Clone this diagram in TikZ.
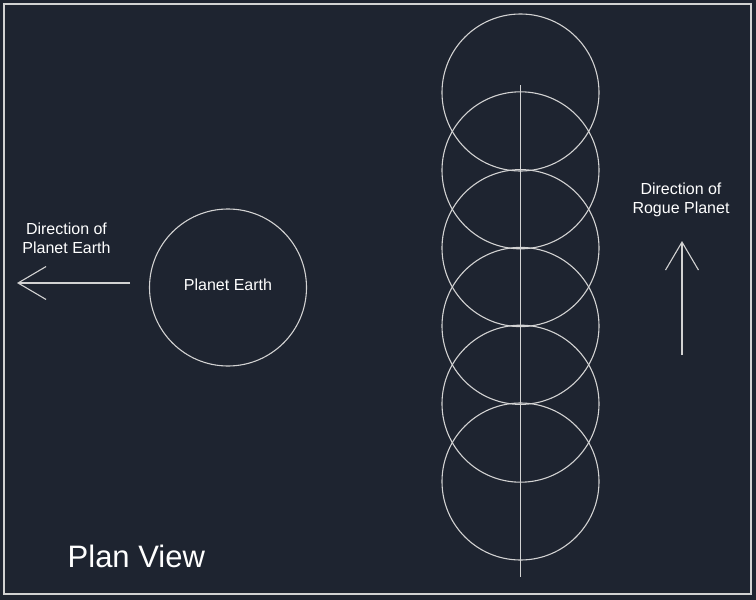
\documentclass[tikz,border=0pt]{standalone}
\usepackage{fontspec}
\setmainfont{Liberation Sans}
\usetikzlibrary{arrows.meta}
\definecolor{bgdark}{HTML}{1E2430}
\definecolor{linegray}{HTML}{D2D2D2}

\begin{document}
\begin{tikzpicture}[
x=1pt, y=-1pt,
planet/.style={
	draw=linegray, circle, line width=1.1pt,
	minimum size=157pt, inner sep=0pt
},
lbl/.style={text=white, align=center, inner sep=0pt,
	font=\fontsize{16}{19}\selectfont},
dir/.style={draw=linegray, line width=1.1pt,
	-{Straight Barb[length=28pt,width=33pt]}}
]
\useasboundingbox (0,0) rectangle (756,600);
\fill[bgdark] (0,0) rectangle (756,600);
\draw[linegray, line width=1.3pt] (4,4) rectangle (751,594);

% planet earth and its direction
\node[planet] (earth) at (228,287.5) {};
\node[lbl] (earthName) at (228,285) {Planet Earth};
\coordinate (earthTail) at (130,283);
\coordinate (earthHead) at (17,283);
\draw[dir] (earthTail) -- (earthHead);
\node[lbl] (earthDir) at (66.5,238.5) {Direction of\\Planet Earth};

% rogue planet track
\foreach \i in {0,...,5}
{
	\node[planet] (rogue\i) at (520.5,{92.5+77.8*\i}) {};
}
\coordinate (trackTop) at (520.5,85);
\coordinate (trackBot) at (520.5,577);
\draw[linegray, line width=1.1pt] (trackTop) -- (trackBot);

\coordinate (rogueTail) at (682,355);
\coordinate (rogueHead) at (682,241);
\draw[dir] (rogueTail) -- (rogueHead);
\node[lbl] (rogueDir) at (681,200) {Direction of\\Rogue Planet};

\node[text=white, anchor=base west, inner sep=0pt,
	font=\fontsize{31}{37}\selectfont] (title) at (67.5,567) {Plan View};
\end{tikzpicture}
\end{document}
